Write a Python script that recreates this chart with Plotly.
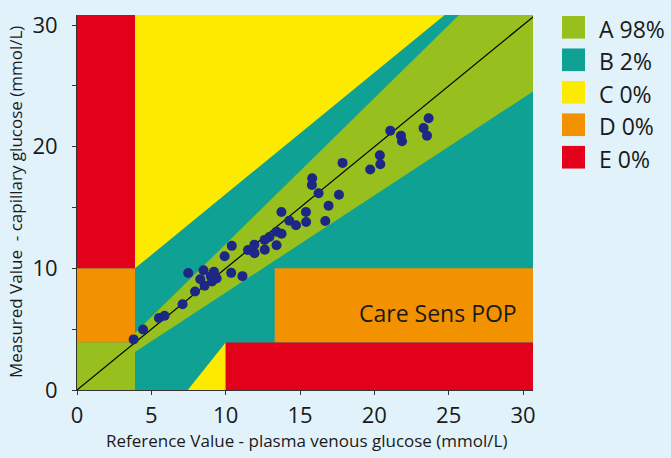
import plotly.graph_objects as go

# ---- data -------------------------------------------------------------
ref_x = [3.81, 4.44, 5.51, 5.89, 7.10, 7.94, 7.48, 8.51, 8.29, 8.58,
         9.21, 9.00, 9.39, 9.08, 10.37, 11.13, 9.93, 10.41, 11.50, 11.93,
         11.94, 12.63, 12.62, 12.94, 13.42, 13.42, 13.76, 13.75, 14.28, 14.73,
         15.40, 15.41, 15.82, 15.80, 16.25, 17.62, 16.92, 16.70, 17.86, 19.72,
         20.37, 20.40, 21.07, 21.79, 21.86, 23.65, 23.31, 23.54]
meas_y = [4.16, 4.97, 5.92, 6.11, 7.05, 8.10, 9.62, 9.84, 9.11, 8.57,
          9.72, 9.36, 9.18, 8.92, 9.63, 9.36, 11.00, 11.85, 11.50, 11.95,
          11.25, 11.54, 12.34, 12.58, 11.90, 13.02, 12.85, 14.63, 13.92, 13.55,
          14.63, 13.81, 17.40, 16.86, 16.18, 16.05, 15.15, 13.89, 18.67, 18.13,
          19.29, 18.56, 21.31, 20.91, 20.45, 22.34, 21.53, 20.91]

zone_names = ["A", "B", "C", "D", "E"]
zone_pct = [98, 2, 0, 0, 0]

# zone thresholds (mmol/L)
HYPO = 3.9
HYPER = 10.0
D_RIGHT = 13.3
E_LOW_X = 10.0
C_LOW_X0 = 7.45
A_UP = 1.2
A_LOW = 0.8
C_UP_OFF = 6.1

x_ticks = [0, 5, 10, 15, 20, 25, 30]
y_ticks = [0, 5, 10, 15, 20, 25, 30]
y_tick_text = ["0", "", "10", "", "20", "", "30"]

XMAX = 30.67
YMAX = 30.83

# ---- styles -----------------------------------------------------------
GREEN = "#97bf1d"
TEAL = "#0fa294"
YELLOW = "#fcea00"
ORANGE = "#f29200"
RED = "#e2001a"
DOT = "#1c2786"
BG = "#e1f2fa"
FONT = "Open Sans"
zone_colors = [GREEN, TEAL, YELLOW, ORANGE, RED]

fig = go.Figure()


def poly(xs, ys, color):
    fig.add_trace(go.Scatter(x=xs + [xs[0]], y=ys + [ys[0]], mode="lines",
                             fill="toself", fillcolor=color,
                             line=dict(width=0, color=color),
                             hoverinfo="skip", showlegend=False))


# zone A
poly([0, HYPO, HYPO, 0], [0, 0, HYPO, HYPO], GREEN)
poly([HYPO, XMAX, XMAX, YMAX / A_UP, HYPO],
     [A_LOW * HYPO, A_LOW * XMAX, YMAX, YMAX, A_UP * HYPO], GREEN)
# zone C
poly([HYPO, HYPO, YMAX - C_UP_OFF], [HYPER, YMAX, YMAX], YELLOW)
poly([C_LOW_X0, E_LOW_X, E_LOW_X], [0, HYPO, 0], YELLOW)
# zone D
poly([0, HYPO, HYPO, 0], [HYPO, HYPO, HYPER, HYPER], ORANGE)
poly([D_RIGHT, XMAX + 0.1, XMAX + 0.1, D_RIGHT], [HYPO, HYPO, HYPER, HYPER], ORANGE)
# zone E
poly([0, HYPO, HYPO, 0], [HYPER, HYPER, YMAX, YMAX], RED)
poly([E_LOW_X, XMAX, XMAX, E_LOW_X], [0, 0, HYPO, HYPO], RED)

# identity line
fig.add_trace(go.Scatter(x=[0, YMAX], y=[0, YMAX], mode="lines",
                         line=dict(color="black", width=1.2),
                         hoverinfo="skip", showlegend=False))
# measurements
fig.add_trace(go.Scatter(x=ref_x, y=meas_y, mode="markers",
                         marker=dict(color=DOT, size=10, line=dict(width=0)),
                         showlegend=False))

# ---- layout -----------------------------------------------------------
L, R, T, B = 77, 138, 9, 68
W, H = 671, 458
PW, PH = W - L - R, H - T - B


def px_x(px):
    return (px - L) / PW


def px_y(py):
    return (H - B - py) / PH


annotations = []
shapes = []
for i, (n, p) in enumerate(zip(zone_names, zone_pct)):
    top = 10 + 33 * i
    shapes.append(dict(type="rect", xref="paper", yref="paper",
                       x0=px_x(562), x1=px_x(585), y0=px_y(top + 23), y1=px_y(top),
                       fillcolor=zone_colors[i], line=dict(width=0)))
    annotations.append(dict(xref="paper", yref="paper", x=px_x(597), y=px_y(top + 13),
                            xanchor="left", yanchor="middle", showarrow=False,
                            text=f"{n} {p}%", font=dict(size=23, color="#1a1a1a", family=FONT)))

annotations.append(dict(xref="x", yref="y", x=29.75, y=6.3, xanchor="right", yanchor="middle",
                        showarrow=False, text="Care Sens POP",
                        font=dict(size=23, color="#1a1a1a", family=FONT)))
annotations.append(dict(xref="paper", yref="paper", x=px_x(306), y=px_y(441),
                        xanchor="center", yanchor="middle", showarrow=False,
                        text="Reference Value - plasma venous glucose (mmol/L)",
                        font=dict(size=17, color="#1a1a1a", family=FONT)))
annotations.append(dict(xref="paper", yref="paper", x=px_x(15), y=px_y(199),
                        xanchor="center", yanchor="middle", showarrow=False, textangle=-90,
                        text="Measured Value  - capillary glucose (mmol/L)",
                        font=dict(size=17, color="#1a1a1a", family=FONT)))

fig.update_layout(
    width=W, height=H,
    margin=dict(l=L, r=R, t=T, b=B, pad=0),
    paper_bgcolor=BG, plot_bgcolor=TEAL,
    font=dict(family=FONT, color="#1a1a1a"),
    showlegend=False,
    shapes=shapes, annotations=annotations,
    xaxis=dict(range=[0, XMAX], tickvals=x_ticks, showgrid=False, zeroline=False,
               showline=True, linecolor="#333333", linewidth=1,
               ticks="outside", ticklen=4, tickcolor="#333333",
               tickfont=dict(size=22, family=FONT, color="#1a1a1a"),
               ticklabelstandoff=2),
    yaxis=dict(range=[0, YMAX], tickvals=y_ticks, ticktext=y_tick_text,
               showgrid=False, zeroline=False,
               showline=True, linecolor="#333333", linewidth=1,
               ticks="outside", ticklen=4, tickcolor="#333333",
               tickfont=dict(size=22, family=FONT, color="#1a1a1a"),
               ticklabelstandoff=10),
)

fig.write_html("out.html")
